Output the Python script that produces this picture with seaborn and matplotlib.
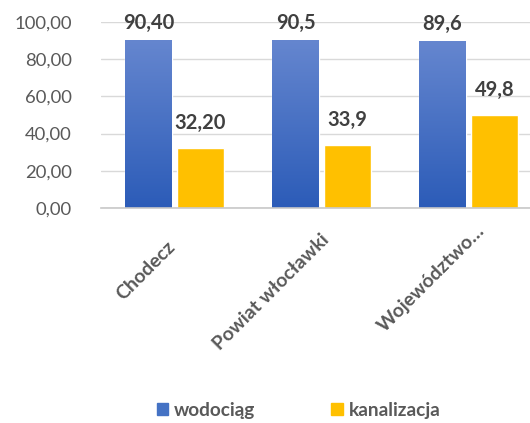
import numpy as np
import pandas as pd
import matplotlib
matplotlib.use("Agg")
import matplotlib.pyplot as plt
import matplotlib.transforms as mtransforms
import seaborn as sns
from matplotlib.colors import LinearSegmentedColormap

regions = ["Chodecz", "Powiat włocławki", "Województwo…"]
series = ["wodociąg", "kanalizacja"]
wodociag = [90.40, 90.5, 89.6]
kanalizacja = [32.20, 33.9, 49.8]
wod_labels = ["90,40", "90,5", "89,6"]
kan_labels = ["32,20", "33,9", "49,8"]
yticks = [0, 20, 40, 60, 80, 100]

df = pd.DataFrame({
    "region": regions * 2,
    "seria": [series[0]] * 3 + [series[1]] * 3,
    "value": wodociag + kanalizacja,
})

sns.set_theme(style="white")
plt.rcParams["font.family"] = ["Lato", "DejaVu Sans"]

BLUE = "#4472C4"
GOLD = "#FFC000"
GRAY = "#595959"

fig = plt.figure(figsize=(5.3, 4.23), dpi=100)
ax = fig.add_axes([101 / 530, (423 - 208) / 423, 441 / 530, 186 / 423])

sns.barplot(data=df, x="region", y="value", hue="seria", order=regions,
            hue_order=series, palette=[BLUE, GOLD], width=0.707, gap=0.1,
            saturation=1, ax=ax, legend=False)

ax.set_yticks(yticks)
ax.set_yticklabels([f"{v:.2f}".replace(".", ",") for v in yticks])
ax.yaxis.grid(True, color="#d9d9d9", lw=1)
ax.set_axisbelow(True)
for s in ["left", "right", "top"]:
    ax.spines[s].set_visible(False)
ax.spines["bottom"].set_color("#c8c8c8")
ax.spines["bottom"].set_linewidth(1.2)
ax.set_xlabel("")
ax.set_ylabel("")
ax.tick_params(axis="y", length=0, labelsize=13.3, labelcolor=GRAY, pad=21)
ax.tick_params(axis="x", length=0, labelbottom=False)

# rotated category labels, shifted along the text direction like Excel does
shifts = [(2, 40), (9, 33), (17, 24)]
for i, (name, (dx, dy)) in enumerate(zip(regions, shifts)):
    off = mtransforms.ScaledTranslation(dx / 100, -dy / 100, fig.dpi_scale_trans)
    ax.text(i, 0, name, transform=ax.get_xaxis_transform() + off, rotation=45,
            rotation_mode="anchor", ha="right", va="baseline", fontsize=14,
            fontweight="bold", color=GRAY)

# gradient on blue bars
grad = LinearSegmentedColormap.from_list("g", ["#2c5cb8", "#6586cf"])
for p in ax.containers[0].patches:
    x0, w, h = p.get_x(), p.get_width(), p.get_height()
    im = ax.imshow(np.linspace(0, 1, 100).reshape(-1, 1), cmap=grad, origin="lower",
                   extent=[x0, x0 + w, 0, h], aspect="auto", zorder=p.get_zorder())
    im.set_clip_path(p)
ax.set_xlim(-0.5, 2.5)
ax.set_ylim(0, 100)

for cont, labs, pad in zip(ax.containers, [wod_labels, kan_labels], [5, 11]):
    ax.bar_label(cont, labels=labs, padding=pad, fontsize=14.5, fontweight="bold",
                 color="#404040")

handles = [plt.Rectangle((0, 0), 1, 1, color=BLUE), plt.Rectangle((0, 0), 1, 1, color=GOLD)]
leg = fig.legend(handles, series, loc="center", bbox_to_anchor=(0.563, 0.03), ncol=2,
                 frameon=False, handlelength=0.6, handleheight=0.6, handletextpad=0.3,
                 columnspacing=4.0, prop={"weight": "bold", "size": 13.7})
for t in leg.get_texts():
    t.set_color(GRAY)

fig.savefig("out.png", dpi=100)
